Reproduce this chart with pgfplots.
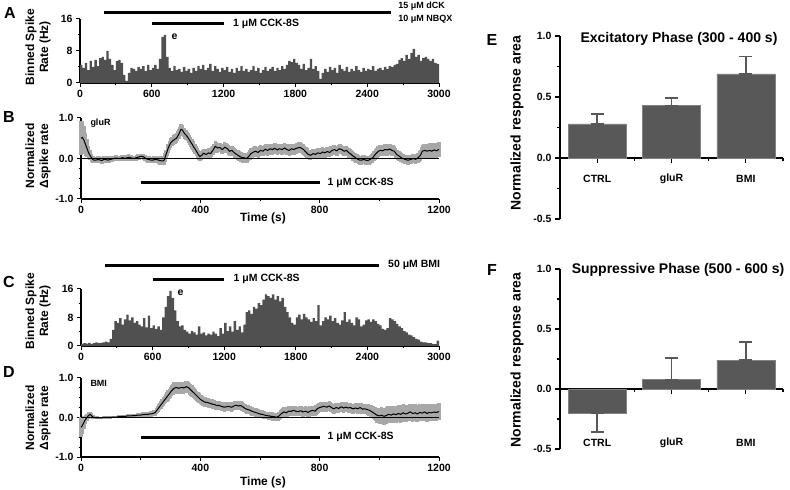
\documentclass[border=0pt]{standalone}
\usepackage{pgfplots}
\pgfplotsset{compat=1.18}
\usepackage{pgfplotstable}
\usepackage{fontspec}
\setmainfont{Liberation Sans}
\definecolor{histg}{RGB}{80,80,80}
\definecolor{bandg}{RGB}{168,168,168}
\definecolor{barg}{RGB}{88,88,88}

\pgfplotstableread{
t v
0 4.5
20 3.8
40 5.0
60 3.2
80 5.5
100 4.0
120 5.8
140 4.2
160 6.2
180 6.5
200 5.8
220 8.0
240 6.0
260 4.5
280 3.2
300 5.5
320 5.8
340 5.0
360 2.0
380 0.5
400 2.5
420 3.8
440 3.5
460 3.0
480 4.0
500 3.5
520 4.2
540 3.0
560 4.5
580 3.2
600 3.8
620 4.5
640 3.5
660 6.0
680 11.5
700 12.0
720 6.5
740 3.8
760 3.0
780 4.2
800 3.2
820 3.5
840 2.8
860 4.0
880 3.0
900 3.5
920 2.5
940 3.8
960 3.0
980 4.2
1000 3.5
1020 4.5
1040 3.2
1060 3.8
1080 4.8
1100 3.0
1120 4.2
1140 3.5
1160 2.8
1180 3.8
1200 3.2
1220 4.0
1240 2.8
1260 3.5
1280 2.5
1300 3.8
1320 3.0
1340 4.2
1360 3.0
1380 3.5
1400 2.8
1420 3.2
1440 4.2
1460 3.0
1480 3.8
1500 2.5
1520 3.2
1540 4.0
1560 3.0
1580 3.5
1600 4.0
1620 3.0
1640 3.8
1660 3.2
1680 4.2
1700 3.5
1720 4.5
1740 5.5
1760 5.2
1780 6.0
1800 5.0
1820 4.5
1840 3.5
1860 4.8
1880 3.2
1900 3.8
1920 6.0
1940 3.5
1960 4.2
1980 3.0
2000 1.0
2020 2.5
2040 3.5
2060 2.8
2080 4.0
2100 3.2
2120 3.8
2140 2.5
2160 4.5
2180 3.5
2200 3.0
2220 4.0
2240 2.8
2260 3.5
2280 3.0
2300 4.2
2320 3.2
2340 2.8
2360 3.8
2380 3.0
2400 3.5
2420 3.2
2440 4.2
2460 3.0
2480 3.5
2500 3.8
2520 3.2
2540 4.0
2560 3.5
2580 4.2
2600 4.0
2620 4.5
2640 4.8
2660 5.8
2680 6.2
2700 5.5
2720 7.0
2740 6.0
2760 7.5
2780 8.5
2800 6.5
2820 7.0
2840 5.5
2860 6.2
2880 6.5
2900 6.0
2920 5.5
2940 6.0
2960 5.0
2980 4.8
3000 4.8
}\dataA

\pgfplotstableread{
t v
0 0.6
20 0.8
40 0.7
60 0.9
80 0.6
100 0.8
120 1.0
140 0.8
160 0.9
180 1.0
200 1.2
220 1.0
240 2.0
260 4.5
280 7.0
300 6.5
320 7.8
340 6.0
360 7.5
380 8.8
400 7.2
420 8.0
440 6.5
460 7.0
480 6.0
500 5.5
520 7.8
540 5.2
560 8.5
580 5.0
600 5.8
620 4.8
640 5.5
660 4.5
680 8.0
700 11.0
720 14.0
740 15.5
760 13.5
780 10.0
800 7.0
820 5.5
840 5.8
860 4.5
880 4.0
900 3.5
920 4.2
940 3.8
960 3.2
980 5.5
1000 3.5
1020 3.8
1040 3.0
1060 3.5
1080 3.2
1100 4.0
1120 3.5
1140 2.8
1160 5.0
1180 3.5
1200 6.5
1220 4.2
1240 5.5
1260 4.0
1280 7.0
1300 4.5
1320 5.5
1340 3.8
1360 6.0
1380 9.5
1400 10.0
1420 9.0
1440 11.0
1460 10.5
1480 12.0
1500 11.5
1520 13.0
1540 14.5
1560 14.0
1580 13.5
1600 14.5
1620 13.0
1640 14.0
1660 12.5
1680 13.5
1700 11.0
1720 9.5
1740 8.0
1760 6.5
1780 6.0
1800 8.0
1820 8.8
1840 7.5
1860 9.0
1880 8.0
1900 7.5
1920 6.8
1940 7.8
1960 7.0
1980 11.5
2000 5.8
2020 7.0
2040 8.0
2060 7.5
2080 8.5
2100 7.0
2120 7.8
2140 6.5
2160 6.0
2180 7.2
2200 9.5
2220 6.8
2240 7.5
2260 6.5
2280 5.8
2300 8.0
2320 7.5
2340 5.5
2360 6.0
2380 7.2
2400 7.5
2420 6.8
2440 7.5
2460 7.0
2480 6.2
2500 5.8
2520 4.8
2540 4.5
2560 5.0
2580 7.8
2600 7.5
2620 7.0
2640 6.2
2660 5.5
2680 5.0
2700 4.2
2720 3.8
2740 3.2
2760 3.0
2780 2.5
2800 2.0
2820 1.8
2840 1.2
2860 1.0
2880 1.0
2900 0.8
2920 0.8
2940 0.6
2960 0.5
2980 1.5
3000 1.5
}\dataC

\pgfplotstableread{
t m s
0 0.50 0.42
5 0.52 0.40
10 0.45 0.35
15 0.35 0.28
20 0.25 0.22
25 0.15 0.16
30 0.08 0.12
35 0.02 0.10
40 -0.03 0.09
45 -0.04 0.08
50 -0.04 0.08
55 -0.03 0.08
60 -0.03 0.08
65 -0.04 0.08
70 -0.05 0.08
75 -0.03 0.08
80 -0.02 0.08
85 -0.03 0.08
90 -0.04 0.08
95 -0.03 0.08
100 -0.02 0.07
105 -0.01 0.07
110 0.00 0.07
115 0.01 0.07
120 0.01 0.07
125 0.00 0.07
130 0.00 0.07
135 0.01 0.07
140 0.02 0.07
145 0.01 0.07
150 0.01 0.07
155 0.02 0.07
160 0.03 0.07
165 0.02 0.07
170 0.01 0.07
175 0.00 0.07
180 0.00 0.07
185 0.02 0.07
190 0.03 0.07
195 0.04 0.07
200 0.05 0.07
205 0.05 0.07
210 0.04 0.07
215 0.01 0.08
220 -0.01 0.08
225 -0.02 0.08
230 -0.03 0.08
235 -0.04 0.08
240 -0.04 0.08
245 -0.03 0.08
250 -0.02 0.08
255 -0.03 0.09
260 -0.04 0.09
265 -0.05 0.10
270 -0.06 0.10
274 -0.06 0.10
278 -0.05 0.10
282 0.03 0.11
285 0.10 0.12
289 0.18 0.12
292 0.25 0.12
296 0.32 0.12
300 0.38 0.12
305 0.42 0.12
310 0.45 0.12
315 0.48 0.12
320 0.50 0.12
324 0.55 0.12
328 0.60 0.12
332 0.67 0.12
335 0.72 0.12
340 0.70 0.12
345 0.64 0.12
348 0.61 0.12
352 0.58 0.12
356 0.54 0.12
360 0.50 0.12
364 0.45 0.12
368 0.40 0.12
372 0.36 0.12
375 0.32 0.12
378 0.28 0.12
382 0.24 0.12
386 0.19 0.12
390 0.14 0.12
394 0.09 0.12
398 0.05 0.11
401 0.06 0.11
405 0.08 0.11
408 0.11 0.11
412 0.13 0.11
416 0.11 0.11
420 0.10 0.11
424 0.12 0.11
428 0.14 0.11
431 0.13 0.11
435 0.12 0.11
438 0.16 0.12
442 0.20 0.12
446 0.25 0.12
450 0.30 0.12
454 0.28 0.12
458 0.26 0.12
462 0.27 0.12
466 0.27 0.12
470 0.24 0.12
474 0.22 0.12
478 0.25 0.12
482 0.28 0.12
486 0.26 0.12
490 0.25 0.12
494 0.21 0.12
498 0.18 0.12
502 0.19 0.12
506 0.20 0.12
510 0.17 0.12
514 0.14 0.12
518 0.12 0.12
522 0.10 0.12
526 0.08 0.12
530 0.06 0.12
534 0.04 0.12
538 0.03 0.12
542 0.02 0.12
546 0.02 0.12
550 0.01 0.12
554 0.00 0.12
558 0.02 0.12
562 0.05 0.12
566 0.09 0.13
570 0.12 0.13
574 0.14 0.13
578 0.16 0.13
582 0.17 0.13
586 0.18 0.13
590 0.16 0.13
594 0.15 0.13
598 0.18 0.13
602 0.20 0.13
606 0.19 0.13
610 0.18 0.13
614 0.21 0.13
618 0.23 0.13
622 0.21 0.13
626 0.20 0.13
630 0.22 0.13
634 0.24 0.13
638 0.23 0.13
642 0.22 0.13
646 0.24 0.13
650 0.25 0.13
654 0.23 0.13
658 0.21 0.13
662 0.23 0.13
666 0.24 0.13
670 0.23 0.13
674 0.22 0.13
678 0.24 0.13
682 0.26 0.13
686 0.24 0.13
690 0.22 0.13
694 0.21 0.13
698 0.20 0.13
702 0.22 0.13
706 0.24 0.13
710 0.23 0.13
714 0.22 0.13
718 0.24 0.13
722 0.25 0.13
726 0.26 0.13
730 0.27 0.13
734 0.27 0.13
738 0.26 0.13
742 0.24 0.13
746 0.22 0.13
750 0.19 0.13
754 0.16 0.13
758 0.13 0.12
762 0.10 0.12
766 0.09 0.12
770 0.08 0.12
774 0.10 0.12
778 0.12 0.12
782 0.11 0.12
786 0.10 0.12
790 0.12 0.12
794 0.14 0.12
798 0.13 0.12
802 0.12 0.12
806 0.14 0.12
810 0.16 0.12
814 0.15 0.12
818 0.14 0.12
822 0.16 0.12
826 0.17 0.12
830 0.16 0.12
834 0.15 0.12
838 0.18 0.12
842 0.20 0.12
846 0.21 0.12
850 0.22 0.12
854 0.20 0.12
858 0.19 0.12
862 0.22 0.12
866 0.24 0.12
870 0.23 0.12
874 0.22 0.12
878 0.20 0.12
882 0.18 0.12
886 0.19 0.12
890 0.20 0.12
894 0.17 0.12
898 0.14 0.12
902 0.12 0.12
906 0.10 0.12
910 0.07 0.12
914 0.05 0.11
918 0.03 0.11
922 0.01 0.11
926 -0.01 0.11
930 -0.03 0.11
935 -0.04 0.11
940 -0.04 0.11
945 -0.03 0.11
950 -0.03 0.11
955 -0.04 0.11
960 -0.05 0.11
965 -0.04 0.11
970 -0.02 0.11
974 0.00 0.12
978 0.02 0.12
982 0.06 0.12
986 0.10 0.13
990 0.13 0.13
994 0.16 0.14
998 0.18 0.14
1002 0.20 0.14
1006 0.20 0.14
1010 0.19 0.14
1014 0.20 0.14
1018 0.22 0.14
1022 0.22 0.14
1026 0.21 0.14
1030 0.22 0.14
1034 0.23 0.14
1038 0.22 0.14
1042 0.20 0.14
1046 0.19 0.14
1050 0.18 0.13
1054 0.14 0.13
1058 0.10 0.12
1062 0.08 0.12
1066 0.06 0.12
1070 0.04 0.12
1074 0.02 0.11
1078 0.00 0.11
1082 -0.01 0.11
1086 -0.02 0.11
1090 -0.03 0.11
1094 -0.04 0.11
1098 -0.04 0.11
1102 -0.03 0.11
1106 -0.02 0.11
1110 -0.01 0.11
1114 0.00 0.11
1118 -0.01 0.11
1122 -0.02 0.11
1126 0.00 0.12
1130 0.02 0.12
1134 0.05 0.13
1138 0.08 0.14
1141 0.13 0.15
1144 0.18 0.16
1148 0.19 0.17
1152 0.20 0.17
1156 0.19 0.18
1160 0.18 0.18
1164 0.19 0.18
1168 0.20 0.18
1172 0.19 0.18
1176 0.18 0.18
1180 0.20 0.18
1184 0.21 0.18
1188 0.20 0.18
1192 0.19 0.18
1196 0.21 0.18
1200 0.22 0.18
}\dataB

\pgfplotstableread{
t m s
0 -0.25 0.25
5 -0.20 0.22
10 -0.12 0.16
15 -0.05 0.12
20 0.00 0.10
25 0.05 0.08
30 0.08 0.07
35 0.05 0.06
40 0.01 0.05
45 0.00 0.04
50 -0.01 0.04
55 -0.01 0.04
60 -0.01 0.03
65 -0.01 0.03
70 -0.01 0.03
75 0.00 0.03
80 0.00 0.03
85 0.00 0.03
90 0.00 0.03
95 0.00 0.03
100 0.00 0.03
105 0.01 0.03
110 0.01 0.03
115 0.01 0.03
120 0.01 0.03
125 0.02 0.04
130 0.02 0.04
135 0.03 0.04
140 0.03 0.04
145 0.03 0.04
150 0.03 0.04
155 0.04 0.05
160 0.04 0.05
165 0.04 0.05
170 0.04 0.05
175 0.05 0.05
180 0.05 0.05
185 0.05 0.05
190 0.06 0.05
195 0.06 0.05
200 0.06 0.05
205 0.07 0.06
210 0.07 0.06
215 0.08 0.06
220 0.08 0.06
225 0.08 0.06
230 0.09 0.06
235 0.09 0.07
240 0.10 0.07
244 0.11 0.07
248 0.12 0.07
252 0.16 0.08
256 0.20 0.08
260 0.24 0.09
264 0.28 0.09
268 0.32 0.10
272 0.36 0.10
276 0.40 0.11
280 0.44 0.11
284 0.48 0.12
288 0.52 0.12
292 0.56 0.13
296 0.60 0.13
300 0.64 0.14
304 0.68 0.14
308 0.71 0.15
312 0.74 0.15
316 0.75 0.15
320 0.76 0.15
324 0.75 0.15
328 0.74 0.15
332 0.75 0.15
336 0.76 0.15
340 0.76 0.15
344 0.75 0.15
348 0.76 0.15
352 0.78 0.15
356 0.77 0.15
360 0.76 0.15
364 0.73 0.15
368 0.70 0.15
372 0.67 0.15
376 0.64 0.14
380 0.61 0.14
384 0.58 0.13
388 0.55 0.13
392 0.52 0.13
396 0.49 0.12
400 0.46 0.12
404 0.44 0.12
408 0.42 0.12
412 0.40 0.12
416 0.39 0.12
420 0.38 0.12
424 0.38 0.12
428 0.37 0.12
432 0.36 0.12
436 0.35 0.12
440 0.34 0.12
444 0.33 0.12
448 0.33 0.12
452 0.31 0.11
456 0.30 0.11
460 0.31 0.11
464 0.30 0.11
468 0.29 0.11
472 0.28 0.11
476 0.27 0.11
480 0.26 0.11
484 0.27 0.11
488 0.27 0.11
492 0.28 0.11
496 0.28 0.11
500 0.27 0.11
504 0.26 0.11
508 0.27 0.11
512 0.29 0.11
516 0.30 0.11
520 0.31 0.11
524 0.30 0.11
528 0.29 0.11
532 0.30 0.11
536 0.30 0.11
540 0.28 0.11
544 0.26 0.11
548 0.24 0.11
552 0.22 0.11
556 0.21 0.11
560 0.20 0.11
564 0.19 0.11
568 0.18 0.11
572 0.16 0.11
576 0.15 0.11
580 0.14 0.11
584 0.13 0.11
588 0.12 0.11
592 0.11 0.11
596 0.10 0.11
600 0.09 0.11
604 0.08 0.10
608 0.08 0.10
612 0.07 0.10
616 0.06 0.10
620 0.05 0.10
624 0.05 0.10
628 0.04 0.10
632 0.04 0.10
636 0.03 0.10
640 0.03 0.10
644 0.02 0.10
648 0.02 0.10
652 0.01 0.10
656 0.01 0.10
660 0.02 0.10
664 0.04 0.10
668 0.07 0.11
672 0.10 0.11
676 0.12 0.12
680 0.14 0.12
684 0.13 0.12
688 0.12 0.12
692 0.14 0.12
696 0.16 0.12
700 0.16 0.12
704 0.15 0.12
708 0.17 0.12
712 0.18 0.12
716 0.17 0.12
720 0.16 0.12
724 0.15 0.12
728 0.15 0.12
732 0.16 0.12
736 0.17 0.12
740 0.16 0.12
744 0.14 0.12
748 0.15 0.12
752 0.16 0.12
756 0.15 0.12
760 0.13 0.12
764 0.14 0.12
768 0.16 0.12
772 0.17 0.12
776 0.18 0.12
780 0.17 0.12
784 0.16 0.12
788 0.19 0.12
792 0.22 0.12
796 0.24 0.12
800 0.25 0.12
804 0.26 0.12
808 0.27 0.12
812 0.28 0.12
816 0.28 0.12
820 0.27 0.12
824 0.26 0.12
828 0.28 0.12
832 0.29 0.12
836 0.27 0.12
840 0.25 0.12
844 0.23 0.12
848 0.22 0.12
852 0.24 0.12
856 0.25 0.12
860 0.24 0.12
864 0.23 0.12
868 0.25 0.12
872 0.27 0.12
876 0.26 0.12
880 0.24 0.12
884 0.25 0.12
888 0.26 0.12
892 0.25 0.12
896 0.24 0.12
900 0.25 0.12
904 0.25 0.12
908 0.23 0.12
912 0.22 0.12
916 0.23 0.12
920 0.24 0.12
924 0.23 0.12
928 0.22 0.12
932 0.24 0.12
936 0.25 0.12
940 0.23 0.13
944 0.21 0.13
948 0.22 0.13
952 0.22 0.13
956 0.21 0.13
960 0.20 0.13
964 0.19 0.14
968 0.18 0.14
972 0.16 0.15
976 0.14 0.15
980 0.12 0.16
984 0.10 0.17
988 0.08 0.18
992 0.06 0.19
996 0.05 0.20
1000 0.04 0.20
1004 0.05 0.20
1008 0.06 0.20
1012 0.04 0.21
1016 0.03 0.21
1020 0.04 0.21
1024 0.05 0.21
1028 0.07 0.21
1032 0.08 0.21
1036 0.07 0.21
1040 0.06 0.21
1044 0.08 0.21
1048 0.09 0.21
1052 0.08 0.21
1056 0.07 0.21
1060 0.09 0.21
1064 0.10 0.21
1068 0.09 0.21
1072 0.08 0.21
1076 0.10 0.21
1080 0.12 0.21
1084 0.10 0.21
1088 0.09 0.21
1092 0.10 0.21
1096 0.11 0.21
1100 0.13 0.21
1104 0.14 0.21
1108 0.12 0.21
1112 0.10 0.21
1116 0.11 0.21
1120 0.12 0.21
1124 0.10 0.21
1128 0.09 0.21
1132 0.11 0.21
1136 0.13 0.21
1140 0.12 0.21
1144 0.11 0.21
1148 0.13 0.21
1152 0.14 0.21
1156 0.12 0.21
1160 0.10 0.21
1164 0.12 0.21
1168 0.13 0.21
1172 0.12 0.21
1176 0.12 0.21
1180 0.13 0.21
1184 0.14 0.21
1188 0.13 0.21
1192 0.13 0.21
1196 0.14 0.21
1200 0.15 0.21
}\dataD

\pgfplotstableread{
x y ep em
0 0.28 0.08 0
1 0.43 0.06 0
2 0.69 0.14 0
}\dataE

\pgfplotstableread{
x y ep em
0 -0.20 0 0.16
1 0.08 0.18 0
2 0.24 0.15 0
}\dataF

\pgfplotsset{
  panel/.style={
    scale only axis, anchor=south west, clip=false,
    axis lines=left, axis line style={-, line width=1.2pt},
    tick align=outside, tick style={black, line width=1pt},
    major tick length=4pt, minor tick length=2.5pt,
    scaled ticks=false,
    /pgf/number format/assume math mode=true,
    /pgf/number format/1000 sep={},
    tick label style={font=\bfseries\fontsize{10.5}{12}\selectfont},
  },
  trace/.style={panel, xmin=0, xmax=1200, ymin=-1, ymax=1,
    xtick={0,400,800,1200}, minor x tick num=1,
    ytick={-1,0,1}, minor y tick num=3,
    yticklabel style={/pgf/number format/.cd, fixed, fixed zerofill, precision=1},
  },
  hist/.style={panel, xmin=0, xmax=3000, ymin=0, ymax=16,
    xtick={0,600,...,3000}, minor x tick num=1,
    ytick={0,8,16}, minor y tick num=1,
  },
  band/.style={draw=none, mark=none, forget plot,
    error bars/.cd, y dir=both, y explicit,
    error bar style={bandg, line width=3.3pt}, error mark=none},
  barax/.style={
    scale only axis, anchor=south west, clip=false,
    xmin=-0.5, xmax=2.5, ymin=-0.5, ymax=1.0,
    axis x line=middle, axis y line=left,
    axis line style={-, line width=1.6pt},
    hide obscured x ticks=false, hide obscured y ticks=false,
    tick align=outside, tick style={black, line width=1.3pt},
    major tick length=5pt, minor tick length=3pt,
    xtick={0,1,2}, xticklabels={}, minor xtick={0.5,1.5,2.5},
    ytick={-0.5,0,0.5,1}, minor y tick num=1,
    /pgf/number format/assume math mode=true,
    yticklabel style={font=\bfseries\fontsize{10.5}{12}\selectfont,
      /pgf/number format/.cd, fixed, fixed zerofill, precision=1},
  },
}

\newcommand{\lab}{\bfseries\fontsize{12}{14}\selectfont}
\newcommand{\ann}{\bfseries\fontsize{10.5}{12}\selectfont}
\newcommand{\sml}{\bfseries\fontsize{9}{10.5}\selectfont}
\newcommand{\plet}{\bfseries\fontsize{16}{18}\selectfont}
\newcommand{\blab}{\bfseries\fontsize{14}{16}\selectfont}

\begin{document}
\begin{tikzpicture}
\useasboundingbox (0,0) rectangle (790pt,490pt);

% ---------- A ----------
\begin{axis}[hist, at={(80pt,407pt)}, width=359pt, height=64pt]
\addplot[const plot, fill=histg, draw=none] table[x=t,y=v]{\dataA} \closedcycle;
\addplot[black, line width=3pt] coordinates {(200,17.5) (2600,17.5)};
\addplot[black, line width=3pt] coordinates {(600,14.75) (1200,14.75)};
\node[anchor=west, font=\ann] at (axis cs:1250,14.75) {1 μM CCK-8S};
\node[anchor=west, font=\sml] at (axis cs:2630,19.3) {15 μM dCK};
\node[anchor=west, font=\sml] at (axis cs:2630,16.0) {10 μM NBQX};
\node[font=\ann] at (axis cs:790,11.5) {e};
\end{axis}

% ---------- B ----------
\begin{axis}[trace, at={(81pt,291pt)}, width=358pt, height=81pt]
\addplot[band] table[x=t, y=m, y error=s]{\dataB};
\addplot[black, line width=0.9pt] coordinates {(0,0) (1200,0)};
\addplot[black, line width=1pt] table[x=t,y=m]{\dataB};
\addplot[black, line width=3pt] coordinates {(200,-0.6) (800,-0.6)};
\node[anchor=west, font=\ann] at (axis cs:815,-0.6) {1 μM CCK-8S};
\node[anchor=west, font=\sml] at (axis cs:20,0.87) {gluR};
\end{axis}

% ---------- C ----------
\begin{axis}[hist, at={(81pt,144pt)}, width=358pt, height=57pt]
\addplot[const plot, fill=histg, draw=none] table[x=t,y=v]{\dataC} \closedcycle;
\addplot[black, line width=3pt] coordinates {(200,22.7) (2500,22.7)};
\addplot[black, line width=3pt] coordinates {(600,18.8) (1200,18.8)};
\node[anchor=west, font=\ann] at (axis cs:1250,18.8) {1 μM CCK-8S};
\node[anchor=west, font=\ann] at (axis cs:2545,22.7) {50 μM BMI};
\node[font=\ann] at (axis cs:835,15.0) {e};
\end{axis}

% ---------- D ----------
\begin{axis}[trace, at={(81pt,33pt)}, width=358pt, height=79pt]
\addplot[band] table[x=t, y=m, y error=s]{\dataD};
\addplot[black, line width=0.9pt] coordinates {(0,0) (1200,0)};
\addplot[black, line width=1pt] table[x=t,y=m]{\dataD};
\addplot[black, line width=3pt] coordinates {(200,-0.5) (800,-0.5)};
\node[anchor=west, font=\ann] at (axis cs:815,-0.5) {1 μM CCK-8S};
\node[anchor=west, font=\sml] at (axis cs:20,0.87) {BMI};
\end{axis}

% ---------- E ----------
\begin{axis}[barax, at={(560pt,271pt)}, width=223pt, height=183pt]
\addplot[ybar, bar width=0.78, fill=barg, draw=barg!75!white,
  error bars/.cd, y dir=both, y explicit,
  error bar style={barg, line width=1.5pt},
  error mark options={rotate=90, barg, mark size=6.5pt, line width=1.5pt}]
  table[x=x, y=y, y error plus=ep, y error minus=em]{\dataE};
\node[font=\ann] at (axis cs:0,-0.172) {CTRL};
\node[font=\ann] at (axis cs:1,-0.172) {gluR};
\node[font=\ann] at (axis cs:2,-0.172) {BMI};
\end{axis}

% ---------- F ----------
\begin{axis}[barax, at={(560pt,41pt)}, width=223pt, height=180pt]
\addplot[ybar, bar width=0.78, fill=barg, draw=barg!75!white,
  error bars/.cd, y dir=both, y explicit,
  error bar style={barg, line width=1.5pt},
  error mark options={rotate=90, barg, mark size=6.5pt, line width=1.5pt}]
  table[x=x, y=y, y error plus=ep, y error minus=em]{\dataF};
\node[font=\ann] at (axis cs:0,-0.45) {CTRL};
\node[font=\ann] at (axis cs:1,-0.45) {gluR};
\node[font=\ann] at (axis cs:2,-0.45) {BMI};
\end{axis}

% ---------- labels ----------
\node[font=\plet] at (10pt,477pt) {A};
\node[font=\plet] at (9pt,373pt) {B};
\node[font=\plet] at (9pt,208pt) {C};
\node[font=\plet] at (9pt,118pt) {D};
\node[font=\plet] at (492pt,450pt) {E};
\node[font=\plet] at (492pt,220pt) {F};

\node[font=\lab, rotate=90, align=center] at (38pt,443pt) {Binned Spike\\Rate (Hz)};
\node[font=\lab, rotate=90, align=center] at (38pt,334pt) {Normalized\\Δspike rate};
\node[font=\lab, rotate=90, align=center] at (38pt,179pt) {Binned Spike\\Rate (Hz)};
\node[font=\lab, rotate=90, align=center] at (38pt,72pt) {Normalized\\Δspike rate};
\node[font=\lab] at (263pt,272pt) {Time (s)};
\node[font=\lab] at (263pt,8pt) {Time (s)};

\node[font=\blab, rotate=90] at (517pt,367pt) {Normalized response area};
\node[font=\blab, rotate=90] at (517pt,130pt) {Normalized response area};
\node[font=\blab] at (679pt,451pt) {Excitatory Phase (300 - 400 s)};
\node[font=\blab] at (678pt,220pt) {Suppressive Phase (500 - 600 s)};
\end{tikzpicture}
\end{document}
